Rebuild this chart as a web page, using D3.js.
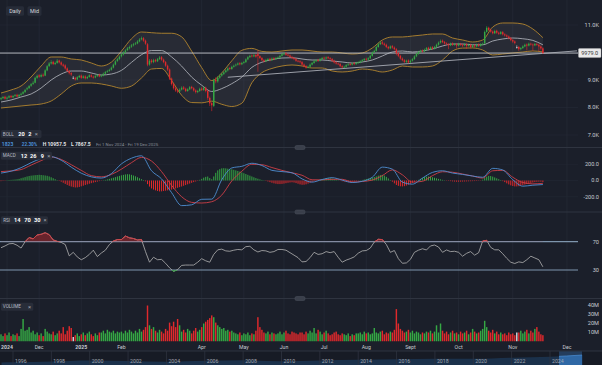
<!DOCTYPE html>
<html><head><meta charset="utf-8">
<script src="https://cdn.jsdelivr.net/npm/d3@7"></script>
<style>
html,body{margin:0;padding:0;background:#1b1f2a;overflow:hidden;}
svg{display:block;}
text{font-family:Roboto,"Noto Sans",Arial,sans-serif;}
</style></head><body>
<svg id="c" width="602" height="365"></svg>
<script>
// ---------- DATA ----------
const tickLabels=["2024","Dec","2025","Feb","Apr","May","Jun","Jul","Aug","Sept","Oct","Nov","Dec"];
const tickBars=[3,19,40,60,100,121,141,161,182,204,228,255,282];
const totalSlots=288; // 1 Nov 2024 - 19 Dec 2025
const priceTicks=[7000,8000,9000,11000];
const lastPrice=9979.0;
const macdTicks=[200,0,-200];
const rsiLevels=[70,30];
const volTicks=[10,20,30,40];
const navTickYears=[1996,1998,2000,2002,2004,2006,2008,2010,2012,2014,2016,2018,2020,2022,2024];
const navYears=[1995.4,1996,1998,2000,2002,2004,2006,2008,2010,2012,2014,2016,2018,2020,2022,2024,2025.7];
const navValues=[2600,2800,3600,4600,3900,3300,4300,4800,3800,4500,5200,5700,6300,6200,7300,8200,10000];
const navSelection=[2024.47,2025.67];
const trendBars=[113,287];
const trendValues=[9100,10060];

const open=[8300,8340,8390,8320,8360,8420,8370,8420,8460,8400,
8460,8500,8560,8660,8700,8790,8860,8900,9080,9170,
9120,9190,9160,9350,9510,9600,9660,9580,9620,9710,
9640,9560,9530,9420,9320,9250,9080,9080,9020,9100,
9160,9080,9130,9060,9110,9170,9120,9090,9140,9190,
9130,9160,9230,9300,9330,9370,9450,9560,9690,9760,
9860,9930,10000,10090,10150,10210,10260,10310,10330,10400,
10480,10520,10430,10300,9560,9710,9650,9730,9680,9760,
9830,9740,9650,9520,9380,9050,8850,8700,8620,8580,
8650,8730,8680,8600,8660,8750,8700,8620,8560,8600,
8690,8640,8720,8600,8350,8160,8060,9010,8950,9080,
9160,9220,9290,9350,9430,9400,9480,9530,9560,9610,
9570,9620,9650,9750,9830,9890,9860,9910,9950,9870,
9800,9720,9680,9730,9770,9720,9790,9760,9800,9820,
9880,9940,9970,9920,9890,9840,9800,9760,9700,9680,
9650,9560,9500,9450,9480,9560,9620,9680,9730,9700,
9760,9810,9780,9830,9790,9760,9700,9640,9600,9580,
9500,9460,9480,9540,9580,9560,9610,9580,9620,9640,
9680,9720,9770,9740,9790,9880,10000,10060,10200,10300,
10370,10320,10280,10200,10150,10230,10180,10120,9980,9880,
9780,9720,9660,9710,9640,9700,9760,9860,9950,10020,
10070,10040,10100,10170,10120,10190,10140,10200,10280,10360,
10430,10380,10330,10300,10260,10330,10280,10300,10250,10310,
10280,10260,10300,10240,10280,10200,10260,10220,10290,10240,
10300,10330,10750,10900,10820,10760,10700,10790,10720,10680,
10740,10660,10620,10580,10520,10450,10400,10200,10200,10120,
10160,10220,10290,10250,10320,10290,10260,10310,10280,10220,
10150];
const high=[8380,8420,8430,8400,8450,8460,8450,8490,8500,8490,
8540,8600,8680,8750,8820,8890,8960,9120,9200,9210,
9230,9240,9390,9540,9650,9720,9700,9670,9760,9740,
9680,9600,9570,9460,9360,9290,9140,9120,9140,9190,
9200,9170,9170,9150,9210,9210,9160,9180,9220,9230,
9200,9270,9330,9370,9410,9490,9600,9720,9800,9890,
9980,10050,10120,10200,10250,10310,10350,10380,10450,10520,
10580,10560,10470,10340,9760,9760,9770,9770,9800,9870,
9870,9780,9690,9560,9420,9090,8900,8750,8660,8700,
8770,8780,8720,8700,8780,8790,8740,8660,8640,8720,
8740,8780,8760,8640,8400,8200,9050,9100,9130,9200,
9260,9320,9390,9460,9470,9520,9560,9600,9640,9650,
9660,9690,9790,9870,9920,9930,9950,9950,10080,9900,
9840,9760,9770,9800,9810,9820,9830,9840,9860,9920,
9980,10010,10010,9960,9930,9880,9840,9800,9740,9720,
9690,9600,9540,9520,9600,9660,9720,9760,9770,9800,
9840,9850,9860,9870,9830,9800,9740,9680,9640,9620,
9540,9520,9580,9610,9620,9640,9650,9660,9680,9720,
9760,9800,9810,9830,9920,10040,10100,10250,10350,10410,
10420,10360,10320,10240,10260,10270,10220,10160,10020,9920,
9820,9760,9740,9750,9740,9800,9900,9990,10060,10100,
10110,10140,10200,10210,10220,10230,10240,10320,10400,10470,
10470,10420,10370,10340,10360,10370,10340,10340,10350,10350,
10320,10340,10340,10320,10320,10300,10300,10320,10330,10340,
10360,10800,10957.5,10940,10860,10800,10830,10830,10760,10780,
10780,10700,10660,10620,10560,10490,10440,10260,10240,10200,
10260,10320,10330,10360,10360,10330,10350,10350,10320,10260,
10190];
const low=[8260,8310,8290,8280,8330,8340,8340,8390,8370,8380,
8430,8470,8530,8620,8680,8750,8820,8880,9040,9080,
9090,9110,9140,9320,9470,9560,9540,9540,9590,9600,
9520,9470,9380,9290,9200,9150,9030,8980,8990,9070,
9040,9050,9020,9030,9080,9090,9050,9060,9110,9100,
9100,9130,9200,9260,9300,9340,9420,9530,9650,9720,
9820,9890,9970,10050,10110,10170,10220,10270,10300,10370,
10440,10390,10280,9500,9520,9600,9610,9640,9650,9730,
9700,9610,9480,9330,9000,8800,8650,8570,8520,8540,
8620,8640,8560,8570,8630,8660,8580,8510,8520,8570,
8600,8600,8550,8280,8050,7867.5,8020,8880,8900,9040,
9120,9180,9250,9310,9360,9370,9450,9490,9530,9530,
9540,9590,9620,9720,9800,9820,9830,9810,9300,9760,
9680,9640,9650,9700,9680,9690,9720,9730,9770,9790,
9850,9910,9880,9850,9800,9760,9720,9660,9640,9610,
9520,9460,9410,9420,9450,9530,9590,9650,9660,9670,
9730,9740,9750,9750,9720,9660,9600,9560,9540,9460,
9420,9430,9450,9510,9520,9530,9540,9550,9590,9610,
9650,9690,9700,9710,9760,9850,9970,10030,10170,10270,
10280,10240,10160,10110,10120,10140,10080,9900,9830,9740,
9680,9620,9620,9600,9610,9670,9730,9830,9920,9990,
10000,10010,10070,10080,10090,10100,10110,10170,10250,10330,
10340,10290,10260,10120,10230,10240,10250,10150,10220,10240,
10200,10230,10130,10210,10150,10170,10180,10190,10200,10210,
10270,10310,10720,10780,10720,10660,10670,10680,10640,10650,
10620,10580,10540,10480,10410,10350,10300,10140,10060,10080,
10130,10190,10080,10220,10250,10060,10230,10240,10050,10100,
9950];
const close=[8340,8380,8320,8360,8410,8370,8420,8450,8400,8460,
8500,8560,8640,8700,8780,8850,8900,9080,9150,9120,
9180,9160,9350,9500,9600,9650,9580,9620,9700,9640,
9560,9520,9420,9330,9250,9200,9080,9020,9100,9150,
9080,9130,9060,9110,9170,9120,9090,9140,9180,9130,
9160,9230,9290,9330,9370,9450,9560,9680,9760,9850,
9930,10000,10080,10150,10200,10260,10300,10330,10400,10470,
10520,10430,10320,9560,9700,9650,9720,9680,9760,9820,
9740,9650,9520,9380,9050,8850,8700,8620,8580,8650,
8720,8680,8600,8660,8740,8700,8620,8560,8600,8680,
8640,8720,8600,8350,8150,8080,9000,8950,9080,9150,
9220,9280,9350,9420,9400,9480,9520,9560,9600,9570,
9620,9650,9750,9830,9880,9860,9900,9850,9870,9800,
9720,9680,9730,9760,9720,9780,9760,9800,9820,9880,
9940,9960,9920,9890,9840,9800,9760,9700,9680,9650,
9560,9500,9450,9480,9560,9620,9680,9720,9700,9760,
9800,9780,9820,9790,9760,9700,9640,9600,9580,9500,
9460,9480,9540,9570,9560,9600,9580,9620,9640,9680,
9720,9760,9740,9790,9880,10000,10060,10200,10300,10360,
10320,10280,10200,10150,10220,10180,10120,9980,9880,9780,
9720,9660,9700,9640,9700,9760,9860,9950,10020,10060,
10040,10100,10160,10120,10180,10140,10200,10280,10360,10420,
10380,10330,10300,10260,10320,10280,10300,10250,10310,10280,
10260,10300,10240,10280,10200,10260,10220,10280,10240,10300,
10320,10750,10900,10820,10760,10700,10780,10720,10680,10740,
10660,10620,10580,10520,10450,10400,10350,10200,10120,10160,
10220,10280,10250,10320,10290,10260,10310,10280,10220,10150,
9979];
// volume, millions
const volume=[8,6,9,7,10,6,8,7,9,6,
14,25,12,13,16,10,12,8,10,7,
9,6,14,11,9,8,11,7,9,12,
9,16,8,12,17,15,5,7,9,6,
8,10,7,9,11,8,6,9,7,10,
10,12,9,13,11,10,12,9,11,10,
11,9,12,10,13,11,9,12,10,14,
11,13,16,40,18,14,16,12,10,13,
11,9,14,12,21,17,22,16,25,18,
11,13,10,14,12,9,12,15,11,13,
16,20,22,24,26,29,27,21,18,16,
14,15,12,13,11,12,10,9,8,10,
7,9,8,10,7,9,8,12,27,16,
13,10,9,11,8,10,9,8,9,11,
8,10,12,9,8,11,10,9,8,10,
10,8,11,9,12,10,15,9,13,11,
8,10,12,9,7,8,10,11,8,7,
9,8,7,9,6,8,7,9,9,10,
8,11,9,10,8,9,15,10,9,11,
12,8,10,9,11,10,13,36,20,14,
12,10,11,13,10,12,9,11,10,8,
10,9,11,10,12,9,11,18,10,20,
12,9,11,8,10,12,9,10,8,11,
9,10,12,8,10,14,11,9,10,12,
14,23,16,12,10,13,9,11,8,10,
8,9,7,10,8,9,7,10,10,12,
9,11,13,9,12,10,14,16,11,8,
7];
// Bollinger (20,2) read every 5th bar
const bollUpper=[8527,8636,8782,9109,9509,9836,9836,9764,9727,9618,9509,9650,10050,10500,10745,10720,10700,10700,10570,10050,9450,8980,9260,9700,10080,10150,10040,10018,10055,10091,10091,10055,10018,10018,9982,9945,9982,10164,10455,10564,10564,10600,10636,10673,10673,10527,10455,10382,10455,10927,11073,11073,11036,10855,10540];
const bollMid=[8200,8273,8382,8491,8709,9000,9218,9327,9327,9255,9182,9218,9350,9640,9920,10070,10070,9840,9506,9105,8810,8583,8687,8866,9105,9458,9646,9740,9800,9810,9764,9727,9727,9691,9655,9618,9655,9727,9873,10018,10055,10018,10055,10127,10236,10309,10309,10280,10280,10418,10491,10527,10500,10440,10280];
const bollLower=[7982,8018,8055,8091,8127,8236,8491,8782,8891,8891,8855,8782,8700,8780,9073,9400,9420,8980,8446,8180,8170,8230,8117,8036,8155,8900,9266,9420,9509,9546,9509,9436,9436,9327,9291,9327,9400,9364,9291,9364,9509,9473,9473,9509,9727,10055,10160,10164,10091,9909,9945,9982,10018,10055,10020];
// MACD (12,26,9) lines read every 5th bar
const macdDif=[92,115,158,220,270,294,250,165,90,45,30,85,205,275,305,120,20,-150,-310,-300,-232,-230,10,155,175,213,185,125,110,95,20,-20,12,35,5,-25,-10,40,165,140,-20,-45,30,100,120,92,75,55,40,150,130,10,-70,-58,-50];
const macdDea=[110,118,135,190,245,290,260,195,125,60,45,75,140,220,285,240,110,-60,-200,-270,-278,-262,-180,-5,115,200,195,160,125,95,65,9,8,15,15,-18,-12,5,60,131,70,-20,-10,60,108,102,80,55,30,120,125,40,-25,-42,-35];
// MACD histogram per bar
const macdHist=[-8,-5,-2,
3,6,8,10,12,15,20,28,35,42,50,56,60,63,66,68,70,68,65,62,58,50,40,28,16,5,
-5,-15,-28,-42,-55,-66,-75,-82,-86,-85,-80,-72,-64,-55,-48,-40,-33,-26,-20,-14,-8,-3,
3,8,14,20,27,34,42,50,57,64,70,75,78,76,70,62,52,40,28,16,6,
-10,-45,-75,-98,-112,-122,-130,-135,-134,-130,-126,-122,-118,-112,-105,-98,-90,-82,-74,-65,-56,-47,-38,-29,-20,-12,-5,
8,20,35,45,49,30,15,
50,95,125,140,150,152,150,146,142,138,132,125,118,110,100,90,80,70,60,50,40,30,22,14,7,2,
-5,-12,-20,-28,-35,-40,-44,-44,-42,-38,-33,-28,-24,-22,-25,-32,-40,-48,-53,-52,-47,-38,-28,-18,-10,-4,
3,8,14,20,25,29,28,24,18,11,4,
-4,-9,-14,-18,-20,-19,-16,-12,-7,-3,
3,7,12,18,24,30,36,43,51,60,67,70,62,45,25,6,
-15,-35,-55,-66,-72,-73,-70,-62,-52,-40,-28,-16,-6,
8,20,32,42,48,49,46,40,34,27,20,14,8,3,
-2,-5,-8,-11,-13,-15,-15,-14,-13,-12,-11,-10,-9,-8,-7,-6,-4,-2,
10,30,48,57,55,48,38,27,16,6,
-8,-20,-35,-48,-60,-68,-73,-73,-70,-65,-58,-50,-43,-36,-30,-25,-20,-16,-14,-15,-20];
// RSI(14) read every 2nd bar
const rsi=[61.5,64,67,67.5,65,61,70,76,74,79.5,
80.5,82.7,80,72.5,70.5,69,66,50,55,48.5,
44.5,47.5,52,58,49,54,58,66,71,73,
73,78,75.5,74.5,72.5,73,56,41,48,44.5,
45,39.5,33,28,30.5,36.5,37,37,37,41,
46,43,41,52,58.5,59.5,57,56.5,58,59,
58.5,63,63.5,58.5,55.5,57.5,57,55,56,59,
59,58,54.5,51,47.5,41.5,42,47.5,55,52,
53,56,54.5,56,48,41,44,46,48.5,53.8,
57,57.5,61,69.5,73.4,73,66,55,57.5,46,
39.5,40,45,55,58,60,58.3,64,65.3,62.5,
55,58.3,56,56.5,55,49.5,53.6,56,51,54.5,
71,72,62,58.5,58.5,53,46.5,41,39.2,41.5,
40.5,44.5,49.5,47,44.5,34.5];

// ---------- LAYOUT ----------
const W=602,H=365,PR=578;
const C={bg:"#1b1f2a",grid:"#252a36",sep:"#2f3440",up:"#35a844",down:"#e0292c",flat:"#d2d5da",
band:"#b3862f",mid:"#a8acb3",dif:"#4f8ed2",dea:"#cf3f48",rsi:"#b4b4b4",lvl:"#7e95ad",txt:"#c6cad1",box:"#282d39"};
const P={top:0,bot:147.5}, M={top:147.5,bot:212}, R={top:212,bot:298.5}, V={top:298.5,bot:341.5}, NAV={top:351,bot:365};

const svg=d3.select("#c");
svg.append("rect").attr("width",W).attr("height",H).attr("fill",C.bg);
const defs=svg.append("defs");
function clip(id,y0,y1,x1){defs.append("clipPath").attr("id",id).append("rect").attr("x",0).attr("y",y0).attr("width",x1||PR).attr("height",y1-y0);return "url(#"+id+")";}

const N=close.length;
const x=d3.scaleLinear().domain([-0.5,totalSlots-0.5]).range([0,PR]);
const pitch=x(1)-x(0);
const yP=d3.scaleLinear().domain([7000,11000]).range([135,25]);
const yM=d3.scaleLinear().domain([-200,200]).range([196.7,164.3]);
const yR=d3.scaleLinear().domain([30,70]).range([270,241.7]);
const yV=d3.scaleLinear().domain([0,40]).range([341.5,305.5]);
const navX=d3.scaleLinear().domain([1996,2024]).range([13,550]);
const navY=d3.scaleLinear().domain([0,11000]).range([365,354]);

const bars=d3.range(N);
const bars5=d3.range(0,N,5);
const bars2=d3.range(0,N,2);
const colorOf=i=>close[i]>open[i]?C.up:(close[i]<open[i]?C.down:C.flat);

// navigator background
svg.append("rect").attr("x",0).attr("y",NAV.top).attr("width",W).attr("height",NAV.bot-NAV.top).attr("fill","#171b25");

// vertical grid lines
const gGrid=svg.append("g");
tickBars.forEach(t=>{gGrid.append("line").attr("x1",x(t)).attr("x2",x(t)).attr("y1",0).attr("y2",V.bot).attr("stroke",C.grid).attr("stroke-width",0.8);});
// horizontal price grid
priceTicks.concat([10000]).forEach(v=>{gGrid.append("line").attr("x1",0).attr("x2",PR).attr("y1",yP(v)).attr("y2",yP(v)).attr("stroke",C.grid).attr("stroke-width",0.6);});
macdTicks.forEach(v=>{gGrid.append("line").attr("x1",0).attr("x2",PR).attr("y1",yM(v)).attr("y2",yM(v)).attr("stroke",C.grid).attr("stroke-width",0.5);});

// separators
[P.bot,M.bot,R.bot].forEach(y=>{
  svg.append("line").attr("x1",0).attr("x2",W).attr("y1",y).attr("y2",y).attr("stroke",C.sep).attr("stroke-width",1);
  svg.append("rect").attr("x",295).attr("y",y-2).attr("width",10).attr("height",4).attr("rx",1.5).attr("fill","#3a3f4b").attr("stroke","#4c525e").attr("stroke-width",0.5);
});
svg.append("line").attr("x1",0).attr("x2",W).attr("y1",NAV.top).attr("y2",NAV.top).attr("stroke",C.sep).attr("stroke-width",1);

// ---------- PRICE PANEL ----------
const gP=svg.append("g").attr("clip-path",clip("cp",P.top,P.bot));
const bandArea=d3.area().x((d,k)=>x(bars5[k])).y0((d,k)=>yP(bollLower[k])).y1(d=>yP(d)).curve(d3.curveMonotoneX);
gP.append("path").attr("d",bandArea(bollUpper)).attr("fill","rgba(160,160,160,0.10)");
const bline=d3.line().x((d,k)=>x(bars5[k])).y(d=>yP(d)).curve(d3.curveMonotoneX);
gP.append("path").attr("d",bline(bollUpper)).attr("fill","none").attr("stroke",C.band).attr("stroke-width",0.9);
gP.append("path").attr("d",bline(bollLower)).attr("fill","none").attr("stroke",C.band).attr("stroke-width",0.9);
gP.append("path").attr("d",bline(bollMid)).attr("fill","none").attr("stroke",C.mid).attr("stroke-width",0.9);
// current price line & trend line
gP.append("line").attr("x1",0).attr("x2",PR).attr("y1",yP(lastPrice)).attr("y2",yP(lastPrice)).attr("stroke","#c3c6cc").attr("stroke-width",0.9);
gP.append("line").attr("x1",x(trendBars[0])).attr("x2",x(trendBars[1])).attr("y1",yP(trendValues[0])).attr("y2",yP(trendValues[1])).attr("stroke","#a9adb5").attr("stroke-width",0.9);
// candles
const gC=gP.append("g");
gC.selectAll("line.w").data(bars).enter().append("line")
  .attr("x1",i=>x(i)).attr("x2",i=>x(i)).attr("y1",i=>yP(high[i])).attr("y2",i=>yP(low[i]))
  .attr("stroke",colorOf).attr("stroke-width",0.6);
gC.selectAll("rect.b").data(bars).enter().append("rect")
  .attr("x",i=>x(i)-pitch*0.36).attr("width",pitch*0.72)
  .attr("y",i=>yP(Math.max(open[i],close[i])))
  .attr("height",i=>Math.max(0.8,Math.abs(yP(open[i])-yP(close[i]))))
  .attr("fill",colorOf);

// price axis labels
const axT=svg.append("g").attr("font-size",5.6).attr("fill",C.txt).attr("text-anchor","end");
priceTicks.forEach(v=>axT.append("text").attr("x",599).attr("y",yP(v)).attr("dy","0.35em").text((v/1000).toFixed(1)+"K"));
svg.append("rect").attr("x",578.5).attr("y",yP(lastPrice)-4.5).attr("width",22.5).attr("height",9).attr("rx",1).attr("fill","#e9e9ea").attr("stroke","#bbb").attr("stroke-width",0.4);
svg.append("text").attr("x",589.7).attr("y",yP(lastPrice)).attr("dy","0.35em").attr("text-anchor","middle").attr("font-size",5.5).attr("fill","#333").text(lastPrice.toFixed(1));

// buttons
function button(x0,w,label){
  svg.append("rect").attr("x",x0).attr("y",6.2).attr("width",w).attr("height",9.6).attr("rx",1.5).attr("fill","#272c38");
  svg.append("text").attr("x",x0+w/2).attr("y",11).attr("dy","0.35em").attr("text-anchor","middle").attr("font-size",5.4).attr("fill","#d3d7de").text(label);
}
button(6,18,"Daily"); button(27.5,14,"Mid");

// legend helper
function legend(y,w,parts){
  svg.append("rect").attr("x",1).attr("y",y-4).attr("width",w).attr("height",8).attr("rx",1.5).attr("fill",C.box);
  parts.forEach(p=>svg.append("text").attr("x",p[0]).attr("y",y).attr("dy","0.35em").attr("font-size",p[2]||5.4)
    .attr("font-weight",p[3]||"normal").attr("fill",p[4]||"#ffffff").text(p[1]));
}
legend(134,40.5,[[2.8,"BOLL",4.6,"normal","#b9bdc6"],[18.3,"20",5.6,"bold"],[28.3,"2",5.6,"bold"],[34.8,"×",5.8,"normal","#a0a5ae"]]);
// info row
const info=svg.append("g").attr("font-size",5).attr("font-weight","bold");
info.append("text").attr("x",1.8).attr("y",144).attr("dy","0.35em").attr("fill","#4c8fd8").text("1823");
info.append("text").attr("x",21.7).attr("y",144).attr("dy","0.35em").attr("fill","#4c8fd8").attr("font-size",4.7).text("22.30%");
info.append("text").attr("x",42.7).attr("y",144).attr("dy","0.35em").attr("fill","#e2e4e8").text("H 10957.5");
info.append("text").attr("x",71).attr("y",144).attr("dy","0.35em").attr("fill","#e2e4e8").text("L 7867.5");
info.append("text").attr("x",96).attr("y",144).attr("dy","0.35em").attr("fill","#8a909a").attr("font-weight","normal").attr("font-size",4.4).text("Fri 1 Nov 2024 - Fri 19 Dec 2025");

// ---------- MACD PANEL ----------
const gM=svg.append("g").attr("clip-path",clip("cm",M.top,M.bot));
gM.selectAll("rect").data(bars).enter().append("rect")
  .attr("x",i=>x(i)-0.5).attr("width",1)
  .attr("y",i=>Math.min(yM(0),yM(macdHist[i]))).attr("height",i=>Math.max(0.3,Math.abs(yM(macdHist[i])-yM(0))))
  .attr("fill",i=>macdHist[i]>=0?C.up:C.down);
const mline=d3.line().x((d,k)=>x(bars5[k])).y(d=>yM(d)).curve(d3.curveMonotoneX);
gM.append("path").attr("d",mline(macdDea)).attr("fill","none").attr("stroke",C.dea).attr("stroke-width",0.9);
gM.append("path").attr("d",mline(macdDif)).attr("fill","none").attr("stroke",C.dif).attr("stroke-width",0.9);
macdTicks.forEach(v=>axT.append("text").attr("x",599).attr("y",yM(v)).attr("dy","0.35em").text(v.toFixed(1)));
legend(155.7,51,[[2.8,"MACD",4.6,"normal","#b9bdc6"],[20.7,"12",5.6,"bold"],[30,"26",5.6,"bold"],[40.7,"9",5.6,"bold"],[47.3,"×",5.8,"normal","#a0a5ae"]]);

// ---------- RSI PANEL ----------
const gR=svg.append("g").attr("clip-path",clip("cr",R.top,R.bot));
rsiLevels.forEach(v=>{
  gR.append("line").attr("x1",0).attr("x2",PR).attr("y1",yR(v)).attr("y2",yR(v)).attr("stroke",C.lvl).attr("stroke-width",1.2);
});
const rx=(d,k)=>x(bars2[k]);
const rline=d3.line().x(rx).y(d=>yR(d));
const cAbove=clip("cra",R.top,yR(70));
const cBelow=clip("crb",yR(30),R.bot);
gR.append("path").attr("d",d3.area().x(rx).y0(yR(70)).y1(d=>yR(d))(rsi)).attr("fill","rgba(200,40,44,0.45)").attr("clip-path",cAbove);
gR.append("path").attr("d",d3.area().x(rx).y0(yR(30)).y1(d=>yR(d))(rsi)).attr("fill","rgba(53,168,68,0.45)").attr("clip-path",cBelow);
gR.append("path").attr("d",rline(rsi)).attr("fill","none").attr("stroke",C.rsi).attr("stroke-width",0.8);
gR.append("path").attr("d",rline(rsi)).attr("fill","none").attr("stroke","#d8343a").attr("stroke-width",0.9).attr("clip-path",cAbove);
gR.append("path").attr("d",rline(rsi)).attr("fill","none").attr("stroke",C.up).attr("stroke-width",0.9).attr("clip-path",cBelow);
rsiLevels.forEach(v=>axT.append("text").attr("x",599).attr("y",yR(v)).attr("dy","0.35em").text(v));
legend(220.3,47,[[3.2,"RSI",4.6,"normal","#b9bdc6"],[14,"14",5.6,"bold"],[24.3,"70",5.6,"bold"],[34,"30",5.6,"bold"],[43.6,"×",5.8,"normal","#a0a5ae"]]);

// ---------- VOLUME PANEL ----------
const gV=svg.append("g").attr("clip-path",clip("cv",V.top,V.bot));
gV.selectAll("rect").data(bars).enter().append("rect")
  .attr("x",i=>x(i)-pitch*0.36).attr("width",pitch*0.72)
  .attr("y",i=>yV(volume[i])).attr("height",i=>yV(0)-yV(volume[i]))
  .attr("fill",colorOf);
volTicks.forEach(v=>axT.append("text").attr("x",599).attr("y",yV(v)).attr("dy","0.35em").text(v+"M"));
legend(306.7,32.3,[[2.8,"VOLUME",4.6,"normal","#b9bdc6"],[28,"×",5.8,"normal","#a0a5ae"]]);

// ---------- X AXIS ----------
const gX=svg.append("g").attr("font-size",5.2).attr("fill",C.txt).attr("text-anchor","middle");
tickLabels.forEach((l,k)=>gX.append("text").attr("x",x(tickBars[k])).attr("y",347).attr("dy","0.35em")
  .attr("font-weight",/^\d+$/.test(l)?"bold":"normal").text(l));

// ---------- NAVIGATOR ----------
const gN=svg.append("g");
const navArea=d3.area().x((d,k)=>navX(navYears[k])).y0(NAV.bot).y1(d=>navY(d)).curve(d3.curveMonotoneX);
gN.append("path").attr("d",navArea(navValues)).attr("fill","#1b314b");
gN.append("rect").attr("x",navX(navSelection[0])).attr("y",NAV.top+0.5).attr("width",navX(navSelection[1])-navX(navSelection[0])).attr("height",NAV.bot-NAV.top).attr("fill","rgba(60,125,195,0.35)");
defs.append("clipPath").attr("id","cns").append("rect").attr("x",navX(navSelection[0])).attr("y",NAV.top).attr("width",navX(navSelection[1])-navX(navSelection[0])).attr("height",NAV.bot-NAV.top);
gN.append("path").attr("d",navArea(navValues)).attr("fill","#2f68a5").attr("clip-path","url(#cns)");
gN.append("path").attr("d",d3.line().x((d,k)=>navX(navYears[k])).y(d=>navY(d)).curve(d3.curveMonotoneX)(navValues)).attr("fill","none").attr("stroke","#4d8fd4").attr("stroke-width",0.7).attr("clip-path","url(#cns)");
navTickYears.forEach(yr=>{
  gN.append("line").attr("x1",navX(yr)).attr("x2",navX(yr)).attr("y1",NAV.top).attr("y2",NAV.bot).attr("stroke","#2e3440").attr("stroke-width",0.8);
  gN.append("text").attr("x",navX(yr)+2).attr("y",361.5).attr("dy","0.35em").attr("font-size",5.2).attr("fill","#a0a6b0").text(yr);
});
</script></body></html>
